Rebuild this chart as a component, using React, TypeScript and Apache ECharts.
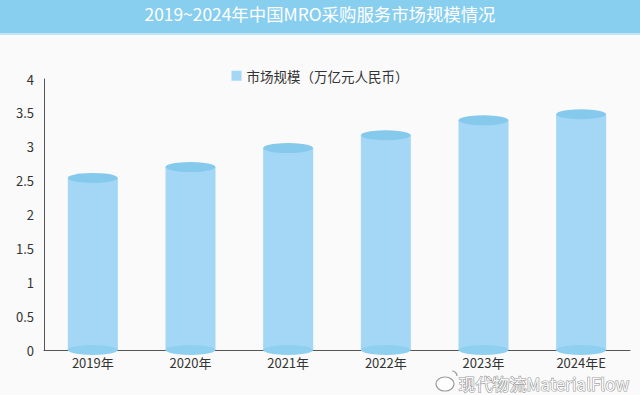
import React, { useEffect, useRef } from "react";
import * as echarts from "echarts";

const categories = ["2019年", "2020年", "2021年", "2022年", "2023年", "2024年E"];
const marketSize = [2.54, 2.7, 2.98, 3.17, 3.39, 3.48];
const seriesName = "市场规模（万亿元人民币）";
const titleText = "2019~2024年中国MRO采购服务市场规模情况";
const watermarkText = "现代物流MaterialFlow";

const FONT = "'Noto Sans CJK SC', 'Noto Sans', sans-serif";

export default function App() {
  const ref = useRef<HTMLDivElement>(null);
  useEffect(() => {
    document.body.style.margin = "0";
    if (!ref.current) return;
    const chart = echarts.init(ref.current, null, { renderer: "svg" });
    chart.setOption({
      animation: false,
      backgroundColor: "#fafafa",
      textStyle: { fontFamily: FONT },
      graphic: [
        {
          type: "rect",
          left: 0,
          top: 0,
          shape: { width: 640, height: 33 },
          style: { fill: "#88ceef" },
          z: 0,
        },
        {
          type: "rect",
          left: 0,
          top: 33,
          shape: { width: 640, height: 2 },
          style: { fill: "#c2e4f4" },
          z: 0,
        },
        {
          type: "text",
          left: "center",
          top: 5,
          style: {
            text: titleText,
            fill: "#ffffff",
            font: `17.4px ${FONT}`,
          },
          z: 1,
        },
        {
          type: "ellipse",
          shape: { cx: 445, cy: 384, rx: 9, ry: 7 },
          style: { fill: "rgba(255,255,255,0.9)", stroke: "#9a9a9a", lineWidth: 1.2 },
          z: 10,
        },
        {
          type: "arc",
          shape: { cx: 452, cy: 376, r: 5, startAngle: -Math.PI / 2, endAngle: 0 },
          style: { stroke: "#9a9a9a", lineWidth: 1.2, fill: "none" },
          z: 10,
        },
        {
          type: "text",
          left: 458,
          top: 374,
          style: {
            text: watermarkText,
            fill: "rgba(255,255,255,0.95)",
            stroke: "#9a9a9a",
            lineWidth: 1.2,
            font: `17px ${FONT}`,
            lineHeight: 16,
          },
          z: 10,
        },
      ],
      legend: {
        data: [seriesName],
        top: 64,
        left: "center",
        icon: "rect",
        itemWidth: 10,
        itemHeight: 10,
        itemGap: 8,
        textStyle: { color: "#333", fontSize: 13.5, fontFamily: FONT },
      },
      grid: { left: 44, right: 10, top: 79, bottom: 45 },
      xAxis: {
        type: "category",
        data: categories,
        axisLine: { lineStyle: { color: "#555" } },
        axisTick: { show: false },
        axisLabel: { color: "#333", fontSize: 13, lineHeight: 13, margin: 6, fontFamily: FONT },
      },
      yAxis: {
        type: "value",
        min: 0,
        max: 4,
        interval: 0.5,
        axisLine: { show: true, lineStyle: { color: "#555" } },
        axisTick: { show: false },
        splitLine: { show: false },
        axisLabel: { color: "#333", fontSize: 13, margin: 10, fontFamily: FONT },
      },
      series: [
        {
          name: seriesName,
          type: "bar",
          data: marketSize,
          barWidth: 50,
          itemStyle: { color: "#a4d7f5" },
          z: 2,
        },
        {
          type: "pictorialBar",
          data: marketSize,
          symbol: "circle",
          symbolSize: [50, 10],
          symbolPosition: "end",
          symbolOffset: [0, "-50%"],
          itemStyle: { color: "#85c9ec" },
          z: 4,
        },
        {
          type: "pictorialBar",
          data: marketSize,
          symbol: "circle",
          symbolSize: [50, 10],
          symbolPosition: "start",
          symbolOffset: [0, "50%"],
          itemStyle: { color: "#8fcff0" },
          z: 4,
        },
      ],
    });
    return () => chart.dispose();
  }, []);
  return (
    <div
      ref={ref}
      style={{ position: "fixed", left: 0, top: 0, width: 640, height: 395 }}
    />
  );
}
